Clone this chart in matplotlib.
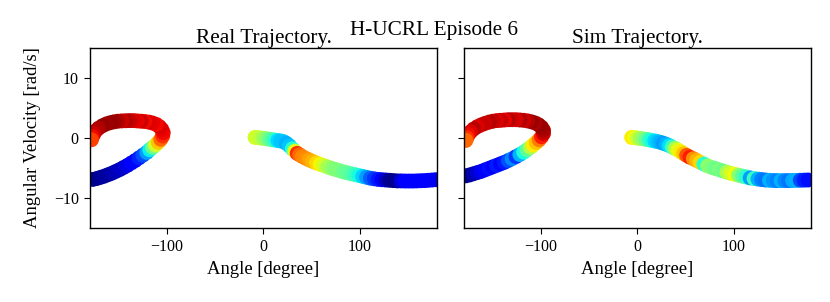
"""
Pendulum swing-up, H-UCRL episode 6: real vs simulated phase trajectory.
Each marker is one step; colour follows the jet map.
"""

import matplotlib
matplotlib.use("Agg")
import matplotlib as mpl
import matplotlib.pyplot as plt

# ---------------------------------------------------------------------------
# DATA  (angle [deg], angular velocity [rad/s], colour value 0..1)
# ---------------------------------------------------------------------------
real_angle = [
    -8.8, -6.0, -3.0, 0.0, 3.0, 6.0, 9.0, 12.0, 15.0, 18.0, 21.0, 24.0, 27.0,
    30.0, 32.5, 35.0, 37.5, 40.5, 44.0, 47.5, 51.0, 55.0, 59.0, 63.0, 67.0,
    71.0, 75.0, 79.0, 83.0, 87.0, 91.0, 95.0, 99.0, 103.0, 107.0, 111.0,
    115.0, 119.0, 123.0, 127.0, 131.0, 135.0, 139.0, 143.0, 147.0, 151.0,
    155.0, 159.0, 163.0, 167.0, 171.0, 175.0, 179.0,
    -177.0, -173.0, -169.0, -165.0, -161.0, -157.0, -153.0, -149.0, -145.0,
    -141.0, -137.0, -133.0, -129.0, -125.0, -121.0, -118.0, -115.0, -112.0,
    -109.0, -106.5, -104.5, -104.0, -105.5, -108.0, -111.0, -115.0, -119.0,
    -123.0, -127.0, -131.0, -135.0, -139.0, -143.0, -147.0, -151.0, -155.0,
    -159.0, -163.0, -167.0, -171.0, -174.0, -176.0, -177.5, -178.5,
]
real_vel = [
    0.10, 0.05, 0.00, -0.05, -0.12, -0.20, -0.28, -0.35, -0.42, -0.50, -0.62,
    -0.90, -1.30, -1.80, -2.20, -2.55, -2.80, -3.10, -3.40, -3.65, -3.90,
    -4.15, -4.40, -4.60, -4.85, -5.05, -5.25, -5.45, -5.65, -5.80, -5.95,
    -6.10, -6.25, -6.40, -6.55, -6.70, -6.80, -6.90, -6.95, -7.00, -7.05,
    -7.10, -7.15, -7.15, -7.17, -7.17, -7.17, -7.15, -7.12, -7.10, -7.05,
    -7.00, -6.95,
    -6.90, -6.75, -6.55, -6.35, -6.10, -5.85, -5.55, -5.25, -4.90, -4.55,
    -4.15, -3.75, -3.30, -2.85, -2.40, -1.95, -1.55, -1.15, -0.70, -0.20,
    0.35, 0.90, 1.45, 1.90, 2.25, 2.50, 2.65, 2.75, 2.80, 2.85, 2.90, 2.90,
    2.88, 2.85, 2.80, 2.70, 2.55, 2.35, 2.05, 1.65, 1.20, 0.70, 0.20, -0.30,
]
real_c = [
    0.60, 0.60, 0.58, 0.55, 0.52, 0.48, 0.45, 0.40, 0.34, 0.32, 0.32, 0.30,
    0.32, 0.40, 0.62, 0.86, 0.80, 0.77, 0.76, 0.74, 0.72, 0.68, 0.65, 0.60,
    0.55, 0.52, 0.50, 0.50, 0.48, 0.47, 0.45, 0.42, 0.38, 0.33, 0.28, 0.22,
    0.18, 0.15, 0.12, 0.06, 0.02, 0.01, 0.02, 0.08, 0.11, 0.12, 0.12, 0.12,
    0.12, 0.12, 0.11, 0.11, 0.10,
    0.02, 0.01, 0.02, 0.03, 0.03, 0.04, 0.05, 0.06, 0.07, 0.09, 0.11, 0.13,
    0.16, 0.20, 0.28, 0.36, 0.48, 0.60, 0.70, 0.80, 0.86, 0.90, 0.91, 0.92,
    0.90, 0.91, 0.92, 0.90, 0.93, 0.91, 0.92, 0.94, 0.95, 0.93, 0.96, 0.97,
    0.98, 0.97, 0.98, 0.96, 0.95, 0.93, 0.90, 0.84,
]

sim_angle = [
    -6.0, -3.0, 0.0, 3.0, 6.0, 9.0, 12.0, 15.0, 18.0, 21.0, 24.0, 27.0, 30.0,
    33.0, 36.0, 39.0, 42.0, 45.0, 48.0, 51.0, 54.5, 58.0, 61.5, 65.0, 69.0,
    73.0, 77.0, 81.0, 85.0, 89.0, 93.0, 97.0, 101.0, 105.0, 109.0, 113.0,
    117.0, 121.0, 125.0, 129.0, 133.0, 137.0, 141.0, 145.0, 149.0, 153.0,
    157.0, 161.0, 165.0, 169.0, 173.0, 177.0,
    -178.0, -174.0, -170.0, -166.0, -162.0, -158.0, -154.0, -150.0, -146.0,
    -142.0, -138.0, -134.0, -130.0, -126.0, -122.0, -118.0, -114.5, -111.0,
    -108.0, -105.0, -102.0, -99.5, -97.5, -97.5, -99.5, -102.5, -106.0,
    -110.0, -114.0, -118.0, -122.0, -126.0, -130.0, -134.0, -138.0, -142.0,
    -146.0, -150.0, -154.0, -158.0, -162.0, -166.0, -170.0, -173.0, -175.5,
    -177.0, -178.0,
]
sim_vel = [
    0.10, 0.05, 0.00, -0.08, -0.15, -0.22, -0.30, -0.40, -0.50, -0.60, -0.72,
    -0.88, -1.05, -1.25, -1.50, -1.75, -2.00, -2.30, -2.60, -2.90, -3.20,
    -3.45, -3.75, -4.05, -4.35, -4.65, -4.90, -5.10, -5.30, -5.50, -5.70,
    -5.90, -6.05, -6.20, -6.35, -6.50, -6.65, -6.75, -6.85, -6.92, -7.00,
    -7.05, -7.08, -7.10, -7.10, -7.10, -7.10, -7.08, -7.06, -7.04, -7.02,
    -7.00,
    -6.30, -6.15, -5.95, -5.75, -5.55, -5.30, -5.05, -4.80, -4.55, -4.30,
    -4.05, -3.75, -3.45, -3.10, -2.75, -2.35, -1.95, -1.55, -1.15, -0.75,
    -0.30, 0.20, 0.75, 1.30, 1.80, 2.20, 2.50, 2.70, 2.85, 2.95, 3.00, 3.05,
    3.05, 3.05, 3.00, 2.95, 2.90, 2.80, 2.65, 2.45, 2.20, 1.90, 1.50, 1.05,
    0.55, 0.05, -0.40,
]
sim_c = [
    0.66, 0.64, 0.60, 0.55, 0.52, 0.48, 0.42, 0.38, 0.34, 0.32, 0.30, 0.28,
    0.30, 0.34, 0.42, 0.55, 0.62, 0.66, 0.70, 0.82, 0.88, 0.76, 0.72, 0.68,
    0.40, 0.52, 0.50, 0.48, 0.50, 0.48, 0.56, 0.60, 0.64, 0.52, 0.46, 0.40,
    0.28, 0.42, 0.30, 0.25, 0.24, 0.30, 0.27, 0.25, 0.30, 0.26, 0.24, 0.29,
    0.30, 0.20, 0.16, 0.14,
    0.01, 0.02, 0.04, 0.07, 0.10, 0.12, 0.14, 0.12, 0.15, 0.13, 0.15, 0.20,
    0.26, 0.18, 0.30, 0.38, 0.46, 0.56, 0.66, 0.70, 0.78, 0.88, 0.93, 0.96,
    0.97, 0.98, 0.96, 0.98, 0.95, 0.93, 0.96, 0.92, 0.93, 0.95, 0.91, 0.94,
    0.92, 0.94, 0.95, 0.93, 0.94, 0.92, 0.95, 0.92, 0.90, 0.86, 0.80,
]

# ---------------------------------------------------------------------------
# STYLE
# ---------------------------------------------------------------------------
mpl.rcParams.update({
    "font.family":      "serif",
    "font.serif":       ["Liberation Serif", "DejaVu Serif"],
    "mathtext.fontset": "stix",
    "xtick.labelsize":  11.5,
    "ytick.labelsize":  11.5,
    "axes.labelsize":   13.4,
    "axes.titlesize":   15.3,
    "axes.linewidth":   1.0,
    "xtick.major.size": 4.5,
    "ytick.major.size": 4.5,
})

# ---------------------------------------------------------------------------
# FIGURE
# ---------------------------------------------------------------------------
fig = plt.figure(figsize=(8.3, 3.02), dpi=100)
ax_real = fig.add_axes([0.1084, 0.245, 0.418, 0.596])
ax_sim  = fig.add_axes([0.5590, 0.245, 0.418, 0.596], sharey=ax_real)

panels = [
    (ax_real, real_angle, real_vel, real_c, "Real Trajectory."),
    (ax_sim,  sim_angle,  sim_vel,  sim_c,  "Sim Trajectory."),
]
for ax, ang, vel, col, title in panels:
    ax.scatter(ang, vel, c=col, cmap="jet", vmin=0, vmax=1,
               s=115, linewidths=0)
    ax.set_xlim(-180, 180)
    ax.set_ylim(-15, 15)
    ax.set_xticks([-100, 0, 100])
    ax.set_yticks([-10, 0, 10])
    ax.set_xlabel("Angle [degree]")
    ax.set_title(title, pad=3.5)

ax_real.set_ylabel("Angular Velocity [rad/s]", labelpad=9)
ax_sim.tick_params(labelleft=False)

fig.text(0.523, 0.884, "H-UCRL Episode 6", ha="center", va="baseline",
         fontsize=15.3)

fig.savefig("out.png", dpi=100)
